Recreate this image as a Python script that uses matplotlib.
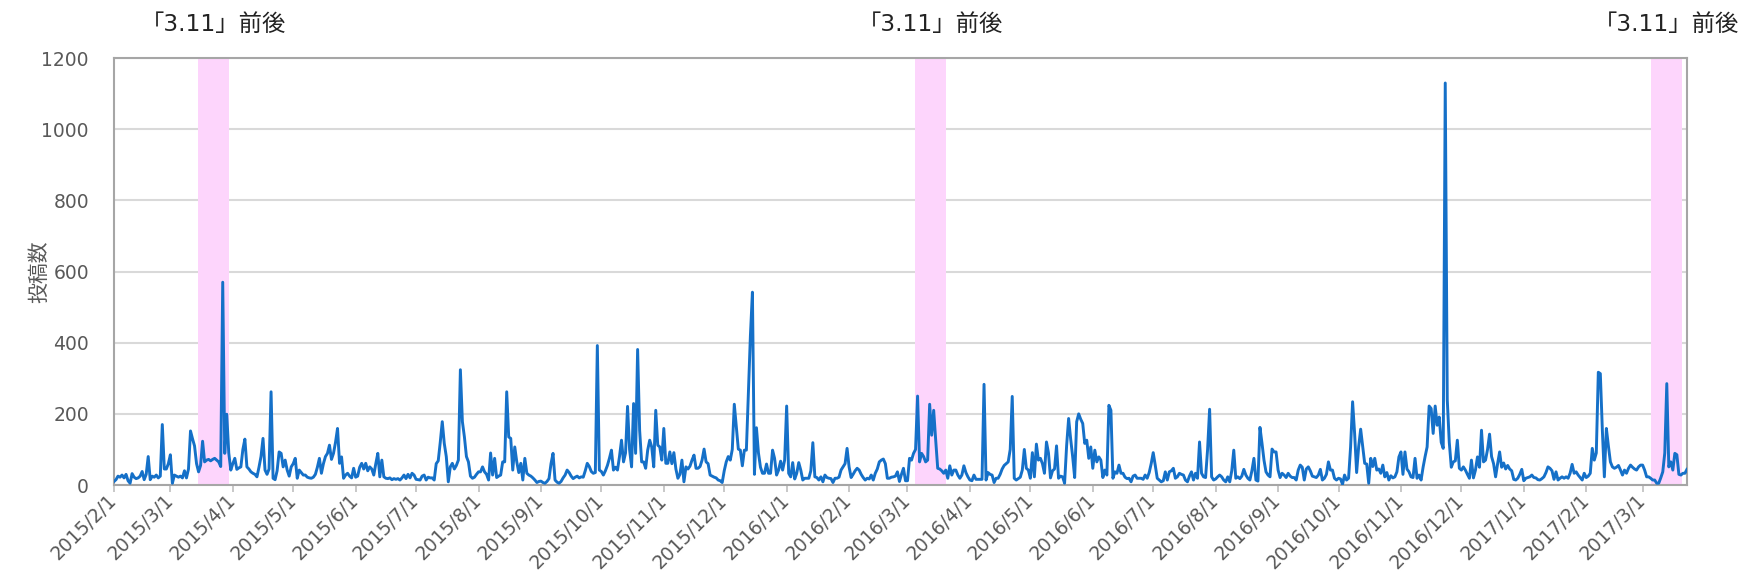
import pandas as pd
import matplotlib
matplotlib.use('Agg')
import matplotlib.pyplot as plt
import matplotlib.dates as mdates
from matplotlib.ticker import FuncFormatter

plt.rcParams['font.family'] = ['DejaVu Sans', 'Noto Sans CJK JP']

# daily post counts starting 2015/2/1
start_date = '2015-02-01'
posts = [
    10, 15, 25, 22, 28, 20, 30, 12, 5, 32,
    22, 18, 20, 25, 38, 15, 30, 80, 15, 25,
    22, 28, 20, 25, 170, 45, 45, 60, 85, 5,
    28, 25, 22, 25, 20, 40, 20, 45, 152, 130,
    110, 60, 37, 55, 123, 65, 70, 72, 68, 72,
    75, 70, 65, 52, 570, 89, 199, 90, 42, 60,
    75, 44, 48, 51, 100, 129, 51, 45, 37, 33,
    30, 23, 50, 80, 131, 42, 30, 45, 262, 19,
    15, 40, 93, 89, 51, 70, 42, 25, 51, 60,
    75, 19, 42, 35, 28, 28, 22, 20, 19, 22,
    30, 50, 75, 33, 60, 80, 89, 112, 72, 89,
    120, 159, 61, 79, 19, 28, 33, 25, 20, 47,
    22, 25, 50, 61, 45, 61, 40, 51, 45, 28,
    60, 89, 23, 70, 23, 19, 18, 20, 15, 18,
    16, 18, 14, 20, 28, 18, 30, 20, 33, 28,
    16, 15, 14, 25, 28, 14, 22, 20, 20, 14,
    60, 68, 120, 178, 117, 80, 9, 51, 61, 45,
    55, 70, 324, 178, 135, 80, 65, 25, 19, 22,
    30, 37, 37, 51, 37, 30, 14, 90, 28, 75,
    21, 25, 28, 65, 65, 262, 135, 131, 42, 107,
    65, 35, 61, 14, 75, 33, 28, 25, 20, 14,
    7, 10, 11, 7, 5, 10, 18, 60, 89, 14,
    8, 5, 10, 20, 28, 42, 35, 25, 18, 22,
    25, 20, 23, 22, 40, 61, 52, 38, 33, 35,
    392, 42, 38, 28, 40, 55, 75, 98, 42, 50,
    42, 80, 126, 65, 90, 221, 100, 51, 229, 89,
    381, 154, 65, 65, 47, 98, 126, 107, 51, 210,
    112, 107, 70, 159, 61, 61, 93, 60, 91, 45,
    19, 30, 70, 9, 51, 45, 53, 70, 84, 47,
    47, 52, 70, 101, 65, 60, 28, 25, 22, 20,
    14, 12, 7, 40, 65, 80, 70, 100, 227, 164,
    101, 98, 54, 98, 98, 260, 420, 542, 30, 161,
    90, 50, 33, 33, 59, 33, 33, 98, 75, 28,
    42, 67, 42, 70, 222, 33, 23, 63, 17, 33,
    63, 42, 14, 19, 19, 19, 40, 119, 23, 21,
    14, 23, 9, 28, 21, 19, 18, 7, 19, 19,
    22, 42, 51, 60, 103, 51, 21, 30, 40, 47,
    42, 30, 21, 14, 19, 17, 28, 14, 33, 45,
    65, 70, 73, 60, 19, 19, 22, 23, 25, 37,
    10, 30, 47, 12, 12, 75, 70, 89, 100, 250,
    65, 89, 80, 65, 70, 227, 140, 210, 126, 47,
    45, 40, 33, 42, 19, 54, 28, 42, 42, 28,
    19, 28, 54, 35, 23, 14, 12, 28, 16, 16,
    16, 16, 283, 14, 35, 30, 28, 7, 19, 19,
    30, 45, 55, 60, 65, 100, 249, 19, 14, 18,
    22, 42, 100, 47, 42, 19, 91, 23, 115, 70,
    75, 60, 33, 121, 90, 20, 40, 45, 110, 19,
    25, 23, 5, 110, 187, 130, 80, 21, 178, 200,
    185, 173, 117, 126, 75, 107, 47, 98, 65, 79,
    70, 21, 42, 28, 224, 210, 19, 37, 33, 56,
    33, 33, 22, 18, 19, 9, 25, 28, 19, 19,
    19, 16, 28, 19, 35, 60, 91, 56, 19, 14,
    9, 12, 37, 14, 37, 40, 47, 19, 23, 33,
    30, 28, 14, 9, 25, 37, 14, 33, 19, 121,
    33, 23, 21, 100, 213, 23, 14, 17, 23, 28,
    23, 14, 9, 23, 9, 40, 98, 19, 23, 18,
    25, 44, 28, 19, 14, 40, 75, 14, 11, 162,
    118, 70, 37, 28, 23, 101, 93, 93, 42, 21,
    33, 28, 21, 33, 25, 21, 21, 14, 42, 56,
    50, 14, 45, 51, 40, 25, 23, 21, 28, 44,
    14, 19, 30, 65, 42, 42, 19, 14, 19, 17,
    2, 28, 14, 19, 107, 234, 145, 35, 107, 157,
    110, 61, 59, 5, 75, 52, 75, 42, 45, 33,
    56, 23, 35, 14, 26, 20, 23, 37, 79, 93,
    30, 93, 45, 37, 23, 21, 75, 19, 28, 14,
    50, 80, 107, 222, 215, 145, 222, 168, 191, 120,
    103, 1130, 240, 120, 50, 65, 68, 126, 47, 42,
    51, 42, 30, 19, 70, 20, 42, 79, 50, 154,
    65, 70, 100, 143, 80, 60, 23, 60, 93, 50,
    62, 45, 55, 45, 40, 16, 14, 19, 30, 44,
    12, 19, 21, 23, 28, 21, 20, 15, 14, 18,
    23, 35, 51, 47, 40, 16, 37, 14, 19, 23,
    19, 23, 19, 33, 58, 33, 37, 28, 21, 14,
    33, 21, 25, 33, 103, 70, 90, 317, 313, 155,
    23, 159, 110, 65, 51, 47, 50, 55, 42, 28,
    42, 33, 47, 56, 50, 45, 42, 51, 56, 56,
    42, 23, 23, 19, 14, 14, 5, 5, 20, 37,
    90, 285, 51, 65, 42, 89, 85, 30, 28, 33,
    33, 44,
]

# highlighted periods around March 11
band_starts = ['2015-03-14 17:00', '2016-03-04 17:00', '2017-03-05 05:00']
band_ends = ['2015-03-29 22:00', '2016-03-20 00:00', '2017-03-20 10:00']
band_label = '「3.11」前後'

y_ticks = [0, 200, 400, 600, 800, 1000, 1200]

dates = pd.date_range(start_date, periods=len(posts), freq='D')

fig = plt.figure(figsize=(17.4, 5.81), dpi=100)
ax = fig.add_axes([0.0655, 0.1652, 0.904, 0.7348])

for s, e in zip(band_starts, band_ends):
    s, e = pd.Timestamp(s), pd.Timestamp(e)
    ax.axvspan(s, e, color='#fdd5fc', lw=0, zorder=1)
    ax.text(s + (e - s) / 2, 1.078, band_label, transform=ax.get_xaxis_transform(),
            ha='center', va='center', fontsize=16.8, color='#222222')

ax.plot(dates, posts, color='#1570c8', lw=2.1, zorder=3, solid_joinstyle='round')

ax.set_xlim(dates[0], dates[-1])
ax.set_ylim(0, 1200)
ax.set_yticks(y_ticks)

ax.set_axisbelow(True)
ax.yaxis.grid(True, color='#d9d9d9', lw=1.5)

for sp in ax.spines.values():
    sp.set_color('#a6a6a6')
    sp.set_linewidth(1.5)

ax.xaxis.set_major_locator(mdates.MonthLocator(bymonthday=1))
ax.xaxis.set_major_formatter(FuncFormatter(
    lambda v, pos: '{0.year}/{0.month}/{0.day}'.format(mdates.num2date(v))))

ax.tick_params(axis='y', length=0, pad=18, labelsize=13.5, labelcolor='#595959')
ax.tick_params(axis='x', length=5, width=1.2, color='#bfbfbf', pad=4,
               labelsize=13.5, labelcolor='#595959')
for lab in ax.get_xticklabels():
    lab.set_rotation(45)
    lab.set_ha('right')
    lab.set_va('center')
    lab.set_rotation_mode('anchor')

ax.set_ylabel('投稿数', fontsize=15, color='#595959', va='center')
ax.yaxis.set_label_coords(-0.0477, 0.5)

fig.savefig('out.png', dpi=100)
